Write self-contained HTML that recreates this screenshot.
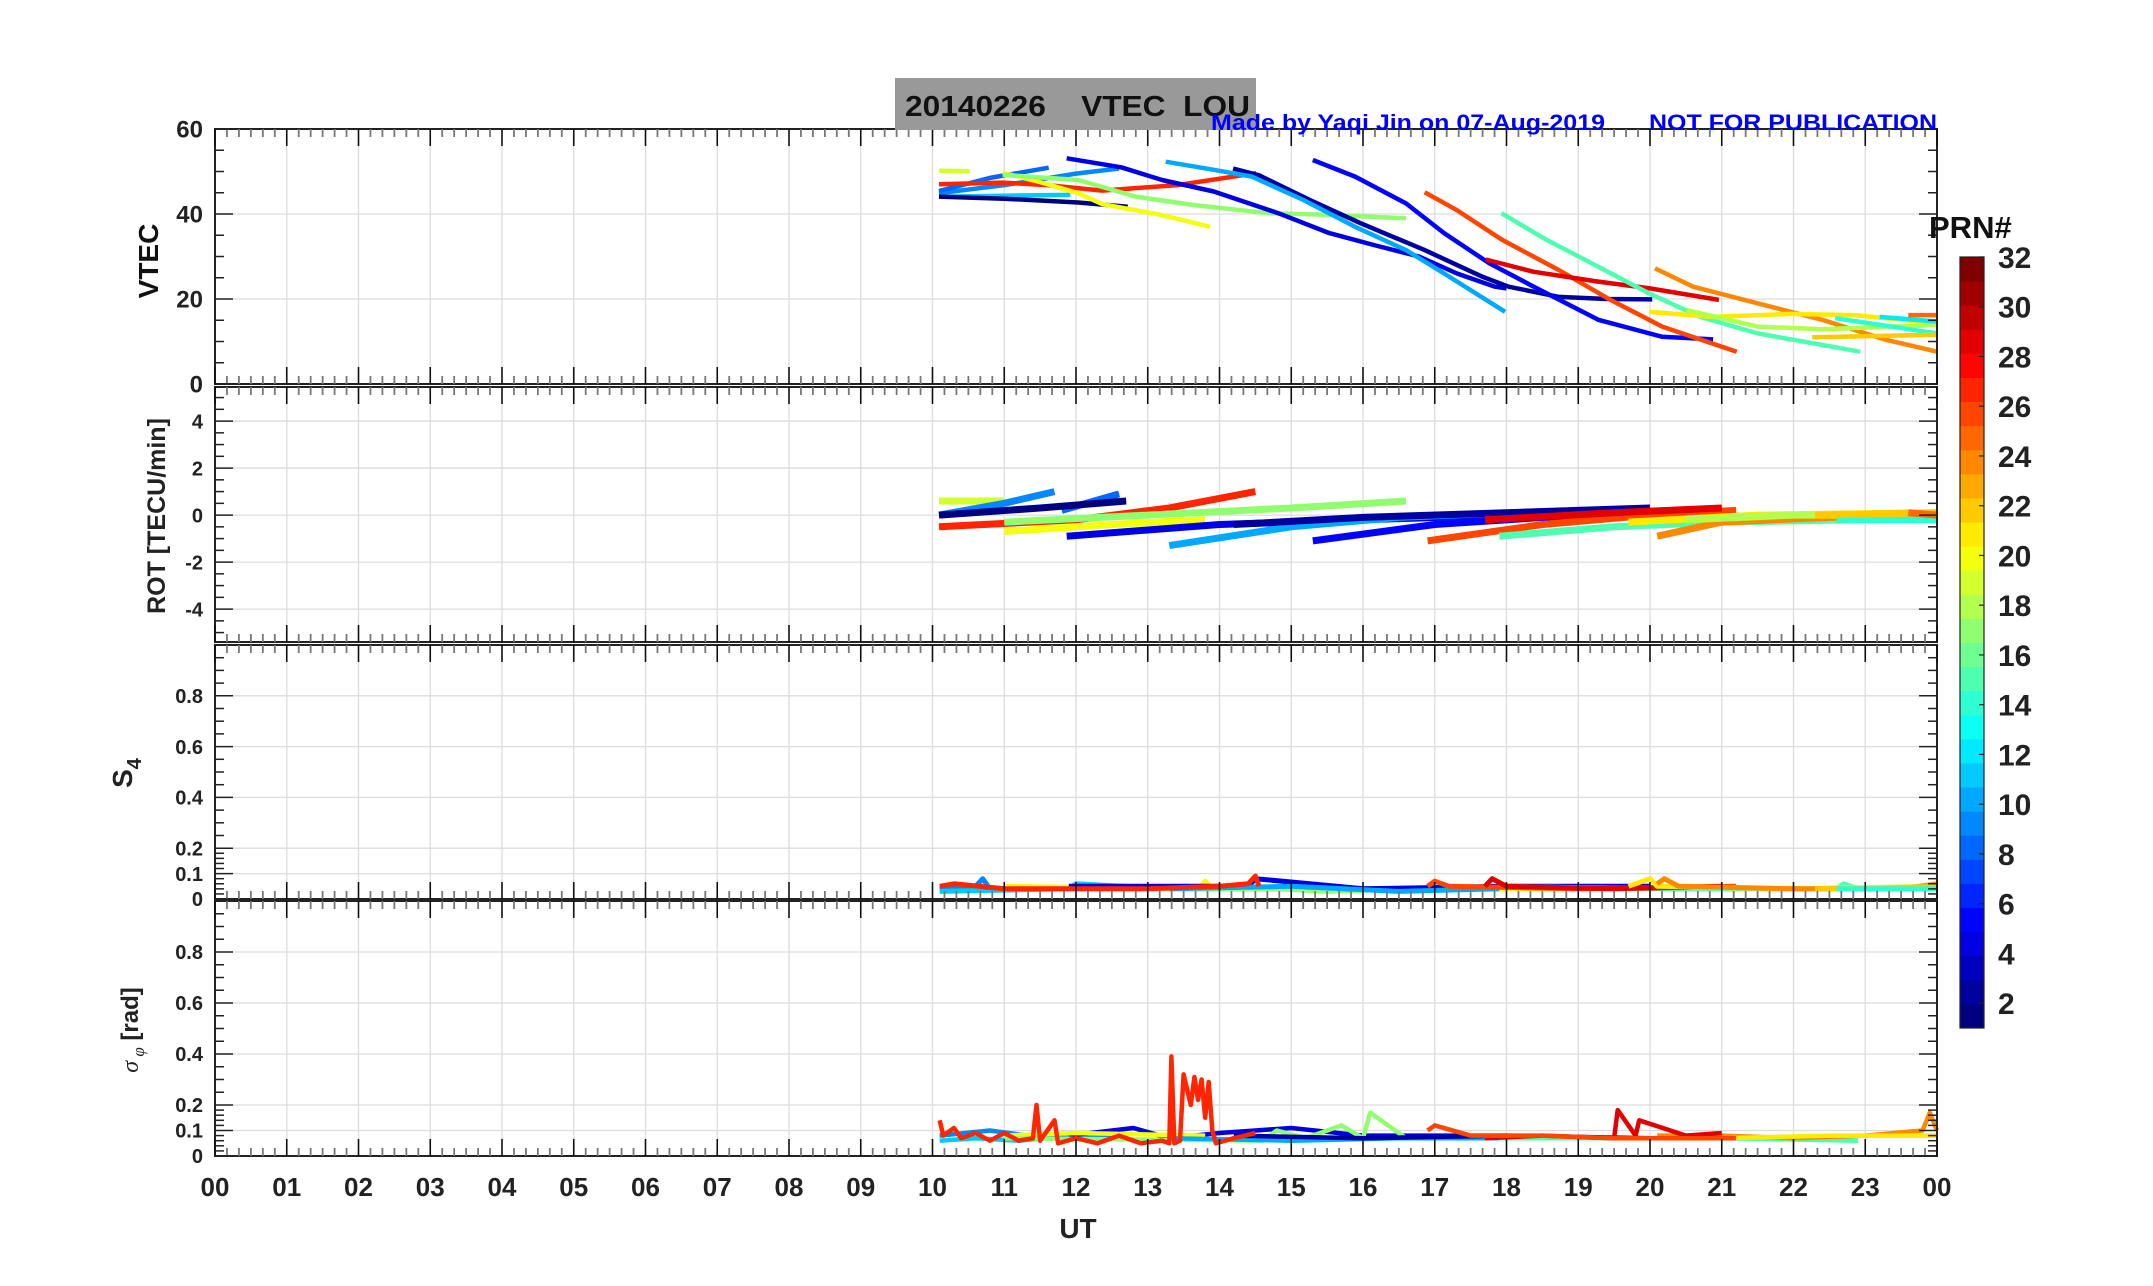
<!DOCTYPE html>
<html><head><meta charset="utf-8"><title>20140226 VTEC LOU</title>
<style>html,body{margin:0;padding:0;background:#fff;}svg{display:block;font-family:"Liberation Sans",Arial,sans-serif;font-weight:bold;}</style>
</head><body>
<svg id="chart" width="2153" height="1286" viewBox="0 0 2153 1286" xmlns="http://www.w3.org/2000/svg">
<rect x="0" y="0" width="2153" height="1286" fill="#fff"/>
<g id="grid"></g><g id="marks"></g><g id="axes"></g>
<rect x="895" y="78" width="361" height="52" fill="#999"/>
<text x="905" y="116" font-size="29" fill="#111" textLength="345" lengthAdjust="spacingAndGlyphs" xml:space="preserve">20140226    VTEC  LOU</text>
<text x="1211" y="130" font-size="22" fill="#0000ff" textLength="394" lengthAdjust="spacingAndGlyphs">Made by Yaqi Jin on 07-Aug-2019</text>
<text x="1649" y="130" font-size="22" fill="#0000ff" textLength="288" lengthAdjust="spacingAndGlyphs">NOT FOR PUBLICATION</text>
<text transform="translate(158,261) rotate(-90)" text-anchor="middle" font-size="28" fill="#111">VTEC</text>
<text transform="translate(165,516) rotate(-90)" text-anchor="middle" font-size="25" fill="#222">ROT [TECU/min]</text>
<text transform="translate(132,773) rotate(-90)" text-anchor="middle" font-size="28" fill="#222">S<tspan font-size="20" dy="9">4</tspan></text>
<text transform="translate(138,1030) rotate(-90)" text-anchor="middle" font-size="24" fill="#222"><tspan font-style="italic" font-weight="normal" font-family="'Liberation Serif',serif">σ</tspan><tspan font-size="17" dy="6" font-style="italic" font-weight="normal" font-family="'Liberation Serif',serif"> φ</tspan><tspan dy="-6"> [rad]</tspan></text>
<text x="1078" y="1238" text-anchor="middle" font-size="28" fill="#222">UT</text>
<text x="1929" y="238" font-size="31" fill="#111">PRN#</text>
<g id="cbar"></g>
</svg>
<script>
// ---------- data ----------
const xTickLabels=["00","01","02","03","04","05","06","07","08","09","10","11","12","13","14","15","16","17","18","19","20","21","22","23","00"];
const vtecTicks=[0,20,40,60];
const rotTicks=[-4,-2,0,2,4];
const s4Ticks=[0,0.1,0.2,0.4,0.6,0.8];
const sigTicks=[0,0.1,0.2,0.4,0.6,0.8];
const cbarTicks=[2,4,6,8,10,12,14,16,18,20,22,24,26,28,30,32];

const vtecPRN=[19,9,8,11,1,27,20,17,4,2,5,10,26,29,15,24,21,18,14,12,22,25];
const vtecHours=[
[10.09,10.52],
[10.09,11.0,12.0,12.6],
[10.09,10.8,11.62],
[10.09,11.0,11.92],
[10.09,11.0,12.03,12.72],
[10.09,10.98,11.6,12.37,13.41,14.51],
[10.98,11.5,12.03,12.37,13.18,13.87],
[10.98,12.03,12.83,13.65,14.68,15.5,16.6],
[11.87,12.63,13.2,13.92,14.82,15.53,16.15,16.78,17.31,17.84,18.0],
[14.19,14.55,15.26,15.97,16.86,17.67,18.03,18.73,19.4,20.03],
[15.3,15.89,16.6,17.13,17.76,18.38,19.28,20.17,20.88],
[13.25,13.92,14.45,15.17,15.89,16.6,17.13,17.98],
[16.86,17.31,17.94,18.73,19.45,20.17,21.21],
[17.71,18.38,19.28,20.0,20.96],
[17.93,18.56,19.28,19.99,20.7,21.5,22.93],
[20.07,20.6,21.5,22.4,23.29,24.0],
[19.99,20.87,21.95,22.84,24.0],
[20.51,21.5,22.4,24.0],
[22.58,24.0],
[23.2,24.0],
[22.26,24.0],
[23.6,24.0]];
const vtecVals=[
[50.2,50.1],
[44.9,46.8,49.5,50.7],
[45.4,48.5,50.9],
[44.1,44.3,44.5],
[44.1,43.6,42.7,41.7],
[47.0,47.4,46.8,45.5,46.8,49.6],
[49.7,47.5,44.9,42.3,39.8,37.0],
[49.2,48.0,44.1,42.1,40.2,39.8,39.0],
[53.1,51.0,48.0,45.3,40.2,35.5,32.7,30.0,26.0,22.9,22.5],
[50.7,49.1,43.3,37.8,31.5,25.2,22.9,20.5,20.0,19.9],
[52.7,48.8,42.5,35.5,28.4,22.9,15.1,11.1,10.5],
[52.3,50.4,48.8,43.3,37.0,31.5,26.0,17.0],
[45.1,40.9,33.9,26.8,19.8,13.5,7.6],
[29.3,26.4,24.1,22.5,19.8],
[40.2,33.9,27.6,21.3,15.8,11.9,7.6],
[27.2,22.9,19.0,15.1,10.4,7.6],
[17.0,15.8,16.5,16.2,14.3],
[17.4,13.5,12.9,13.9],
[15.5,11.9],
[15.8,14.7],
[11.0,11.6],
[16.2,16.2]];

const rotPRN=[19,9,8,1,27,20,17,4,10,2,5,26,29,15,24,21,18,14,22,25];
const rotHours=[
[10.09,11.0],[10.09,11.0,11.7],[11.8,12.6],[10.09,11.5,12.7],[10.09,12.0,13.3,14.5],
[11.0,12.5,13.8],[11.0,13.0,15.0,16.6],[11.87,14.0,16.0,18.0],[13.3,15.0,16.5,18.0],
[14.2,16.0,18.0,20.0],[15.3,17.0,19.0,20.9],[16.9,18.5,20.0,21.2],[17.7,19.5,21.0],
[17.9,19.5,21.0,22.9],[20.1,21.0,22.5,24.0],[19.7,21.5,24.0],[20.5,22.0,24.0],[22.6,24.0],[22.3,24.0],[23.6,24.0]];
const rotVals=[
[0.6,0.6],[0.0,0.5,1.0],[0.2,0.9],[0.0,0.3,0.6],[-0.5,-0.2,0.3,1.0],
[-0.7,-0.4,-0.2],[-0.3,0.0,0.3,0.6],[-0.9,-0.4,-0.2,0.0],[-1.3,-0.5,-0.1,0.1],
[-0.4,-0.1,0.1,0.3],[-1.1,-0.4,0.0,0.2],[-1.1,-0.4,0.0,0.2],[-0.2,0.1,0.3],
[-0.9,-0.5,-0.3,-0.2],[-0.9,-0.3,-0.1,0.0],[-0.3,0.0,0.1],[-0.2,0.0,0.0],[-0.2,-0.2],[0.0,0.1],[0.1,0.0]];

const s4PRN=[9,11,20,17,4,10,15,27,26,29,21,24,22,14];
const s4Hours=[
[10.1,10.6,10.7,10.8,12.6],[10.1,11.9,12.0,13.3,16.0,18.0],[11.0,13.7,13.8,13.9,24.0],[11.0,14.8,15.5,16.6],
[11.9,14.4,14.5,16.0,18.0,20.0],[13.3,15.0,16.5,17.9],[17.9,20.0,22.6,22.7,22.9],
[10.1,10.3,11.0,12.0,13.0,14.0,14.4,14.5,14.55],[16.9,17.0,17.2,19.0,21.2],[17.7,17.8,18.0,19.5,21.0],
[19.7,20.0,20.1,22.0,24.0],[20.1,20.2,20.4,22.0,23.5,24.0],[22.3,23.0,24.0],[22.6,24.0]];
const s4Vals=[
[0.04,0.05,0.08,0.04,0.05],[0.03,0.04,0.06,0.04,0.04,0.04],[0.05,0.04,0.07,0.04,0.04],[0.04,0.04,0.03,0.04],
[0.05,0.05,0.08,0.04,0.05,0.05],[0.04,0.05,0.03,0.04],[0.05,0.04,0.04,0.06,0.04],
[0.05,0.06,0.04,0.04,0.04,0.05,0.06,0.09,0.05],[0.05,0.07,0.05,0.04,0.05],[0.05,0.08,0.05,0.04,0.05],
[0.05,0.08,0.05,0.04,0.05],[0.06,0.08,0.05,0.04,0.04,0.06],[0.04,0.04,0.05],[0.04,0.04]];

const sigPRN=[11,9,4,20,17,10,2,15,24,21,29,26,27];
const sigHours=[
[10.1,10.6,11.2,11.9],[10.1,10.8,11.6,12.6],[11.9,12.8,13.3,14.0,14.5,15.0,16.0,18.0],[11.0,12.0,13.8],
[11.0,14.6,14.8,15.2,15.7,16.0,16.1,16.6],[13.3,15.0,16.5,17.9],[14.2,16.0,18.0,20.0],
[17.9,19.0,20.0,21.0,22.9],[20.1,21.0,22.0,23.0,23.8,23.9,24.0],[19.7,21.0,22.5,24.0],
[17.7,18.5,19.5,19.55,19.8,19.85,20.5,21.0],[16.9,17.0,17.5,18.5,19.5,20.5,21.2],
[10.1,10.15,10.3,10.4,10.6,10.8,11.0,11.2,11.4,11.45,11.5,11.7,11.75,12.0,12.3,12.6,12.9,13.2,13.3,13.33,13.37,13.45,13.5,13.6,13.65,13.7,13.75,13.8,13.85,13.9,13.95,14.2,14.5]];
const sigVals=[
[0.06,0.07,0.06,0.08],[0.08,0.1,0.07,0.08],[0.08,0.11,0.07,0.09,0.1,0.11,0.08,0.08],[0.08,0.09,0.08],
[0.07,0.06,0.1,0.07,0.12,0.07,0.17,0.07],[0.07,0.06,0.07,0.07],[0.08,0.07,0.08,0.07],
[0.07,0.07,0.07,0.07,0.06],[0.08,0.08,0.07,0.08,0.1,0.17,0.1],[0.07,0.07,0.08,0.08],
[0.07,0.08,0.07,0.18,0.08,0.14,0.08,0.09],[0.1,0.12,0.08,0.08,0.07,0.07,0.07],
[0.14,0.08,0.11,0.07,0.09,0.06,0.09,0.06,0.07,0.2,0.06,0.14,0.05,0.07,0.05,0.08,0.05,0.06,0.05,0.39,0.05,0.06,0.32,0.2,0.31,0.22,0.3,0.15,0.29,0.1,0.05,0.07,0.09]];

// ---------- layout ----------
const NS="http://www.w3.org/2000/svg";
const X0=215,X1=1937;
const panels=[
 {name:"vtec",top:129,bot:384,min:0,max:60,ticks:vtecTicks,minor:5,fs:24},
 {name:"rot",top:387,bot:642,min:-5.4,max:5.45,ticks:rotTicks,minor:0.5,fs:20},
 {name:"s4",top:645,bot:899,min:0,max:1,ticks:s4Ticks,minor:null,fs:20},
 {name:"sigma-phi",top:901,bot:1156,min:0,max:1,ticks:sigTicks,minor:null,fs:20}];
function xs(h){return X0+(X1-X0)*h/24;}
function ys(p,v){return p.bot-(p.bot-p.top)*(v-p.min)/(p.max-p.min);}
function jet(prn){const v=(prn-1)/31;const c=t=>Math.round(255*Math.max(0,Math.min(1,1.5-Math.abs(4*v-t))));return `rgb(${c(3)},${c(2)},${c(1)})`;}
function mk(tag,attrs,parent){const e=document.createElementNS(NS,tag);for(const k in attrs)e.setAttribute(k,attrs[k]);parent.appendChild(e);return e;}
const G=document.getElementById("grid"),M=document.getElementById("marks"),A=document.getElementById("axes"),CB=document.getElementById("cbar");
function minorVals(p){const out=[];if(p.minor){for(let v=Math.ceil(p.min/p.minor)*p.minor;v<=p.max+1e-9;v+=p.minor)out.push(+v.toFixed(3));}else{for(let v=0;v<=0.2001;v+=0.02)out.push(+v.toFixed(3));for(let v=0.25;v<=1.0001;v+=0.05)out.push(+v.toFixed(3));}return out;}

panels.forEach((p,pi)=>{
 for(let h=1;h<24;h++){const l=mk("line",{x1:xs(h),x2:xs(h),y1:p.top,y2:p.bot,stroke:"#dcdcdc","stroke-width":1.3},G);
  
  }
 p.ticks.forEach(v=>{if(v<=p.min||v>=p.max)return;const l=mk("line",{x1:X0,x2:X1,y1:ys(p,v),y2:ys(p,v),stroke:"#dcdcdc","stroke-width":1.3},G);
  
  });
 const box=mk("rect",{x:X0,y:p.top,width:X1-X0,height:p.bot-p.top,fill:"none",stroke:"#222","stroke-width":2},A);
 
 
 for(let m=0;m<=144;m++){const x=xs(m/6);const maj=m%6===0;const len=maj?17:8;const col=maj?"#111":"#777";
  [[p.bot,p.bot-len],[p.top,p.top+len]].forEach(([a,b])=>{const t=mk("line",{x1:x,x2:x,y1:a,y2:b,stroke:col,"stroke-width":maj?1.6:1.8},A);
   
   });}
 minorVals(p).forEach(v=>{const y=ys(p,v);const maj=p.ticks.some(t=>Math.abs(t-v)<1e-6);const len=maj?18:9;
  [[X0,X0+len],[X1,X1-len]].forEach(([a,b])=>{const t=mk("line",{x1:a,x2:b,y1:y,y2:y,stroke:"#222","stroke-width":1.5},A);
   
   });});
 p.ticks.forEach(v=>{const t=mk("text",{x:203,y:ys(p,v)+p.fs*0.36,"text-anchor":"end","font-size":p.fs,fill:"#222"},A);t.textContent=String(v);
  
  });
});
xTickLabels.forEach((s,i)=>{const t=mk("text",{x:xs(i),y:1196,"text-anchor":"middle","font-size":26,fill:"#222"},A);t.textContent=s;
 
 });

function drawSeries(p,prns,hours,vals,w,label){
 prns.forEach((prn,i)=>{const pts=hours[i].map((h,j)=>xs(h).toFixed(1)+","+ys(p,vals[i][j]).toFixed(1)).join(" ");
  const l=mk("polyline",{points:pts,fill:"none",stroke:jet(prn),"stroke-width":w,"stroke-linejoin":"round","stroke-linecap":"butt"},M);
  
  });
}
drawSeries(panels[0],vtecPRN,vtecHours,vtecVals,4.5,'vtec-line');
drawSeries(panels[1],rotPRN,rotHours,rotVals,7,'rot-line');
drawSeries(panels[2],s4PRN,s4Hours,s4Vals,5,'s4-line');
drawSeries(panels[3],sigPRN,sigHours,sigVals,4.5,'sigma-phi-line');

const CBX=1960,CBW=24,CBT=257,CBB=1028;
function cy(v){return CBB-(CBB-CBT)*(v-1)/31;}
for(let k=1;k<=32;k++){const y0=CBB-(CBB-CBT)*(k-1)/32,y1=CBB-(CBB-CBT)*k/32;
 const r=mk("rect",{x:CBX,y:y1,width:CBW,height:y0-y1+0.5,fill:jet(k)},CB);
 
 }
const cbf=mk("rect",{x:CBX,y:CBT,width:CBW,height:CBB-CBT,fill:"none",stroke:"#222","stroke-width":1.2},CB);


cbarTicks.forEach(v=>{const y=cy(v);
 const tk=mk("line",{x1:CBX+CBW,x2:CBX+CBW-5,y1:y,y2:y,stroke:"#222","stroke-width":1.2},CB);
 
 
 const t=mk("text",{x:1998,y:y+11,"font-size":30,fill:"#222"},CB);t.textContent=String(v);
 
 });
</script>
</body></html>
